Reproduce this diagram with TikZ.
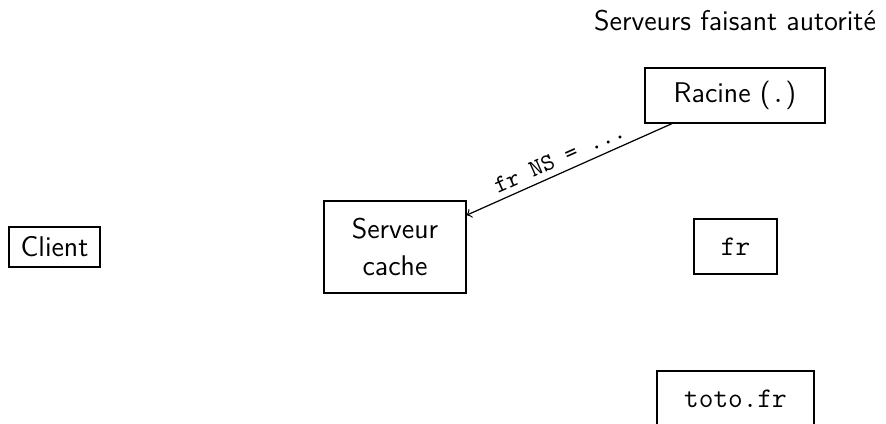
\documentclass[tikz,border=0pt,11pt]{standalone}
\usepackage{fontspec}
\begin{document}
\begin{tikzpicture}[x=0.411pt,y=-0.411pt,
  font=\fontsize{11.7}{14.2}\selectfont\sffamily,
  box/.style={draw,line width=0.5pt,inner sep=0pt,align=center},
  bigbox/.style={box,minimum height=22.6pt},
  lbl/.style={font=\fontsize{10}{12}\selectfont\ttfamily,sloped,above,inner sep=2.5pt}]
  \useasboundingbox (0,0) rectangle (886,424);

  \node (titre) at (735,21) {Serveurs faisant autorité};

  \node[box,minimum width=37.4pt,minimum height=16.4pt] (client) at (54.5,247) {Client};
  \node[box,minimum width=58.4pt,minimum height=37.8pt] (cache) at (395,247)
       {Serveur\\[1pt]cache};
  \node[bigbox,minimum width=74pt] (racine) at (735,95.5) {Racine (\texttt{.})};
  \node[bigbox,minimum width=34.1pt] (fr) at (735.5,246.5) {\texttt{fr}};
  \node[bigbox,minimum width=64.5pt] (toto) at (735.5,398.5) {\texttt{toto.fr}};

  \draw[->,line width=0.5pt] (racine) -- node[lbl,pos=0.52] {fr NS = ...} (cache);
\end{tikzpicture}
\end{document}
